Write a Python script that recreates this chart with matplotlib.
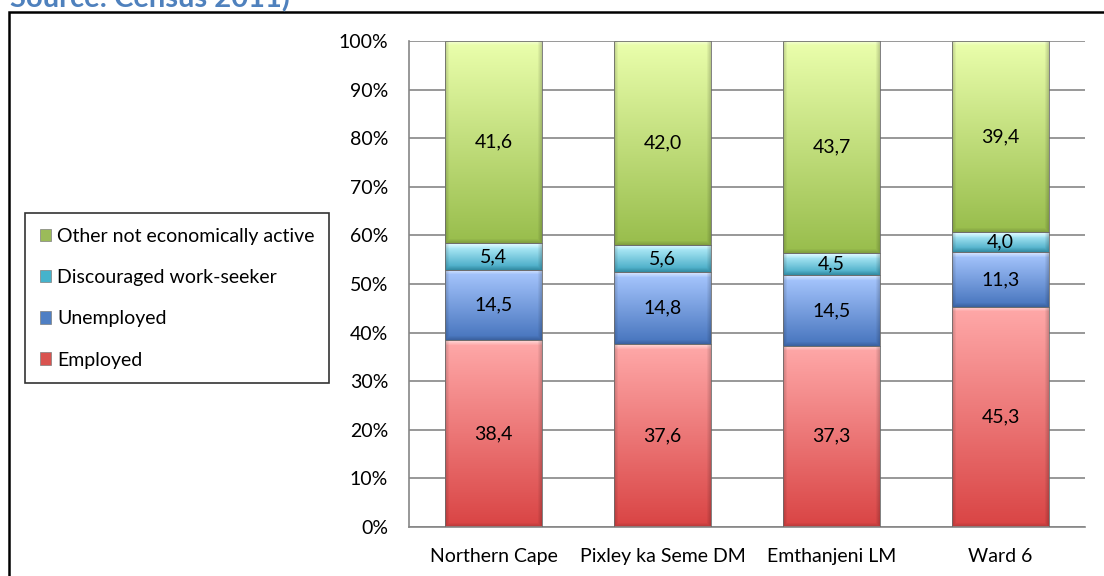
import numpy as np
import matplotlib
matplotlib.use("Agg")
from matplotlib import pyplot as plt
from matplotlib.patches import Patch, Rectangle
from matplotlib.colors import to_rgb

# -------------------- Data --------------------
areas = ["Northern Cape", "Pixley ka Seme DM", "Emthanjeni LM", "Ward 6"]
employed = [38.4, 37.6, 37.3, 45.3]
unemployed = [14.5, 14.8, 14.5, 11.3]
discouraged = [5.4, 5.6, 4.5, 4.0]
other_inactive = [41.6, 42.0, 43.7, 39.4]
series_names = ["Employed", "Unemployed", "Discouraged work-seeker",
                "Other not economically active"]
y_ticks = list(range(0, 101, 10))

# (top, bottom, legend) colours for each series
palette = [
    ("#ffa9a9", "#d94444", "#d9534f"),
    ("#a9c8ff", "#4674bd", "#4f7fc4"),
    ("#bff4ff", "#3ea6c2", "#45b3cc"),
    ("#ebffad", "#98bd4c", "#9bbb59"),
]

FONT = ["Lato", "DejaVu Sans"]
plt.rcParams["font.family"] = FONT


def gradient_image(nx, ny, top, bottom):
    """Vertical gradient with a soft bevel round the edges"""
    top, bottom = np.array(to_rgb(top)), np.array(to_rgb(bottom))
    t = np.linspace(0, 1, ny)[:, None, None]
    img = top + (bottom - top) * t
    img = np.repeat(img, nx, axis=1)
    yy = np.arange(ny)[:, None]
    xx = np.arange(nx)[None, :]
    edge = 5.0
    hi = np.clip(1 - yy / edge, 0, 1) * 0.55
    img = img + (1 - img) * hi[..., None]
    side = np.clip(1 - np.minimum(xx, nx - 1 - xx) / 4.0, 0, 1) * 0.18
    low = np.clip(1 - (ny - 1 - yy) / 4.0, 0, 1) * 0.15
    img = img * (1 - np.maximum(side, low)[..., None])
    return np.clip(img, 0, 1)


# -------------------- Figure --------------------
fig = plt.figure(figsize=(11.04, 5.76), dpi=100)
ax = fig.add_axes([409 / 1104, 49 / 576, 676 / 1104, 486 / 576])

values = np.array([employed, unemployed, discouraged, other_inactive])
shares = values / values.sum(axis=0) * 100
x = np.arange(len(areas))
width = 0.57

ax.set_xlim(-0.5, len(areas) - 0.5)
ax.set_ylim(0, 100)
ax.set_yticks(y_ticks)
ax.set_yticklabels([f"{v}%" for v in y_ticks])
ax.set_xticks(x)
ax.set_xticklabels(areas)
ax.tick_params(axis="both", length=0, labelsize=14, colors="black")
ax.tick_params(axis="y", pad=15)
ax.tick_params(axis="x", pad=15)
ax.yaxis.grid(True, color="#868686", linewidth=1.2)
ax.set_axisbelow(True)
for side in ("top", "right"):
    ax.spines[side].set_visible(False)
for side in ("left", "bottom"):
    ax.spines[side].set_color("#868686")
    ax.spines[side].set_linewidth(1.2)

bottoms = np.zeros(len(areas))
for k, (share, raw) in enumerate(zip(shares, values)):
    top_c, bot_c, _ = palette[k]
    for i in range(len(areas)):
        x0, x1 = x[i] - width / 2, x[i] + width / 2
        y0, y1 = bottoms[i], bottoms[i] + share[i]
        p0 = ax.transData.transform((x0, y0))
        p1 = ax.transData.transform((x1, y1))
        nx = max(int(round(p1[0] - p0[0])), 2)
        ny = max(int(round(p1[1] - p0[1])), 2)
        ax.imshow(gradient_image(nx, ny, top_c, bot_c), extent=(x0, x1, y0, y1),
                  origin="upper", aspect="auto", interpolation="bilinear", zorder=2)
        ax.add_patch(Rectangle((x0, y0), width, share[i], fill=False,
                               edgecolor="#6b6b6b", linewidth=0.6, zorder=3))
        ax.text(x[i], y0 + share[i] / 2, f"{raw[i]:.1f}".replace(".", ","),
                ha="center", va="center", fontsize=14, color="black", zorder=4)
    bottoms += share

ax.set_xlim(-0.5, len(areas) - 0.5)
ax.set_ylim(0, 100)

handles = [Patch(facecolor=palette[k][2], edgecolor="#7f7f7f", linewidth=0.5)
           for k in range(len(series_names))]
leg = fig.legend(handles[::-1], series_names[::-1], loc="upper left",
                 bbox_to_anchor=(25 / 1104, 1 - 213 / 576), fontsize=14,
                 frameon=True, fancybox=False, edgecolor="black",
                 handlelength=0.6, handleheight=0.6, handletextpad=0.3,
                 labelspacing=1.25, borderpad=0.75, borderaxespad=0)
leg.get_frame().set_linewidth(1.2)

# outer frame, running off the right and bottom edges
fig.add_artist(Rectangle((9 / 1104, -0.1), 1.2, 1.1 - 12 / 576,
                         transform=fig.transFigure, fill=False,
                         edgecolor="black", linewidth=1.8))

# heading sits mostly above the top edge
fig.text(10 / 1104, 1 - 7 / 576, "Source: Census 2011)", ha="left",
         va="baseline", fontsize=21, fontweight="bold", color="#4f81bd")

fig.savefig("out.png", dpi=100)
